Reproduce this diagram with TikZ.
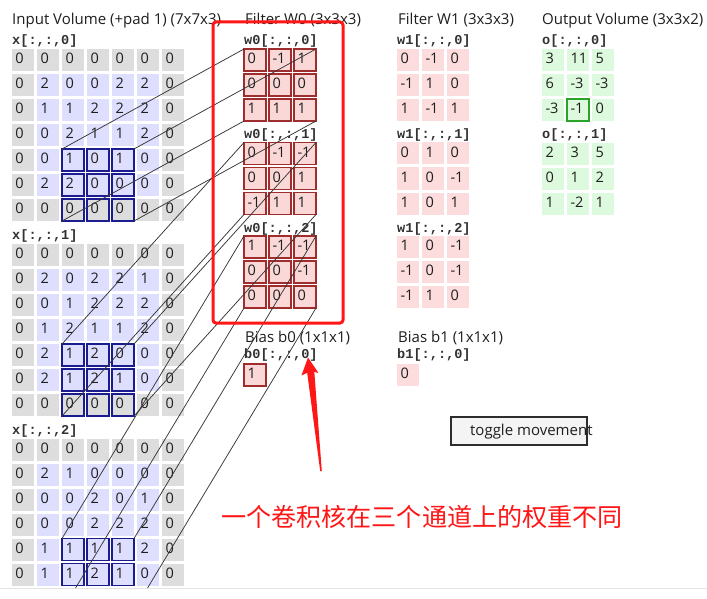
\documentclass[tikz,border=0pt]{standalone}
\usepackage{fontspec}
\newfontfamily\uifont{Open Sans}
\newfontfamily\monof{Liberation Mono}
\newfontfamily\cjkf{Noto Sans CJK SC}
\definecolor{padgray}{RGB}{221,221,221}
\definecolor{inblue}{RGB}{222,222,255}
\definecolor{hlnavy}{RGB}{28,28,145}
\definecolor{wpink}{RGB}{250,216,216}
\definecolor{wred}{RGB}{160,45,45}
\definecolor{wonepink}{RGB}{252,220,220}
\definecolor{ogreen}{RGB}{222,250,222}
\definecolor{ohl}{RGB}{40,165,40}
\definecolor{txt}{RGB}{30,30,30}
\definecolor{mtxt}{RGB}{50,50,50}
\definecolor{conncol}{RGB}{55,55,55}
\definecolor{annred}{RGB}{255,22,22}
\tikzset{
 cellbase/.style={anchor=north west, minimum width=22pt, minimum height=22pt,
   inner xsep=3.5pt, inner ysep=0pt, text width=15pt, align=left,
   text height=10.7pt, text depth=3.5pt, outer sep=0pt,
   font=\uifont\fontsize{14.5}{17}\selectfont, text=txt},
 padcell/.style={cellbase, fill=padgray},
 incell/.style={cellbase, fill=inblue},
 wcell/.style={cellbase, fill=wpink, draw=wred, line width=1.2pt},
 wonecell/.style={cellbase, fill=wonepink},
 ocell/.style={cellbase, fill=ogreen},
 hlbox/.style={draw=hlnavy, line width=1.8pt},
 ohlbox/.style={draw=ohl, line width=1.5pt},
 conn/.style={draw=conncol, line width=0.75pt},
 titletext/.style={anchor=base west, inner sep=0pt, font=\uifont\fontsize{15}{18}\selectfont, text=txt},
 mlabel/.style={anchor=base west, inner sep=0pt, font=\monof\bfseries\fontsize{13.6}{16}\selectfont, text=mtxt},
 btn/.style={draw={rgb,255:red,45;green,45;blue,45}, fill={rgb,255:red,244;green,244;blue,244}, line width=1.5pt},
}
\newcommand\cellgrid[5]{%
 \foreach \r [count=\i from 0] in {#5} {
  \foreach \v [count=\j from 0] in \r {
   \node[#2] (#1-\i-\j) at ({#3+25*\j},{#4+25*\i}) {\v};
  }
 }
}
\newcommand\inputgrid[4]{%
 \foreach \r [count=\i from 0] in {#4} {
  \foreach \v [count=\j from 0] in \r {
   \pgfmathtruncatemacro\padq{(\i==0)||(\i==6)||(\j==0)||(\j==6)}
   \ifnum\padq=1
     \node[padcell] (#1-\i-\j) at ({#2+25*\j},{#3+25*\i}) {\v};
   \else
     \node[incell] (#1-\i-\j) at ({#2+25*\j},{#3+25*\i}) {\v};
   \fi
  }
 }
}
\begin{document}
\begin{tikzpicture}[x=1pt,y=-1pt]
\useasboundingbox (0,0) rectangle (707,599);
\fill[white] (0,0) rectangle (707,599);

\begin{scope}
\clip (0,0) rectangle (707,587.5);
% titles
\node[titletext] (tin) at (12,25) {Input Volume (+pad 1) (7x7x3)};
\node[titletext] (tw0) at (245,25) {Filter W0 (3x3x3)};
\node[titletext] (tw1) at (398,25) {Filter W1 (3x3x3)};
\node[titletext] (tout) at (542,25) {Output Volume (3x3x2)};
% mono labels
\node[mlabel] (lx0) at (12,45) {x[:,:,0]};
\node[mlabel] (lx1) at (12,239.5) {x[:,:,1]};
\node[mlabel] (lx2) at (12,434) {x[:,:,2]};
\node[mlabel] (lw00) at (244,45) {w0[:,:,0]};
\node[mlabel] (lw01) at (244,138.5) {w0[:,:,1]};
\node[mlabel] (lw02) at (244,232) {w0[:,:,2]};
\node[mlabel] (lw10) at (397,45) {w1[:,:,0]};
\node[mlabel] (lw11) at (397,138.5) {w1[:,:,1]};
\node[mlabel] (lw12) at (397,232) {w1[:,:,2]};
\node[mlabel] (lo0) at (542,45) {o[:,:,0]};
\node[mlabel] (lo1) at (542,138.5) {o[:,:,1]};

% input volume
\inputgrid{xa}{12}{49}{{0,0,0,0,0,0,0},{0,2,0,0,2,2,0},{0,1,1,2,2,2,0},{0,0,2,1,1,2,0},{0,0,1,0,1,0,0},{0,2,2,0,0,0,0},{0,0,0,0,0,0,0}}
\inputgrid{xb}{12}{244}{{0,0,0,0,0,0,0},{0,2,0,2,2,1,0},{0,0,1,2,2,2,0},{0,1,2,1,1,2,0},{0,2,1,2,0,0,0},{0,2,1,2,1,0,0},{0,0,0,0,0,0,0}}
\inputgrid{xc}{12}{438.5}{{0,0,0,0,0,0,0},{0,2,1,0,0,0,0},{0,0,0,2,0,1,0},{0,0,0,2,2,2,0},{0,1,1,1,1,2,0},{0,1,1,2,1,0,0}}
% last row of x[:,:,2] lies below the visible edge
\foreach \j in {0,...,6}{
 \node[padcell] (xc-6-\j) at ({12+25*\j},588.5) {};
}
\foreach \g in {xa,xb,xc}{
 \foreach \i in {4,5,6}{
  \foreach \j in {2,3,4}{
   \draw[hlbox] (\g-\i-\j.north west) rectangle (\g-\i-\j.south east);
  }
 }
}

% filter W0
\cellgrid{wa}{wcell}{244}{49}{{0,-1,1},{0,0,0},{1,1,1}}
\cellgrid{wb}{wcell}{244}{142.5}{{0,-1,-1},{0,0,1},{-1,1,1}}
\cellgrid{wc}{wcell}{244}{236}{{1,-1,-1},{0,0,-1},{0,0,0}}
% filter W1
\cellgrid{va}{wonecell}{397}{49}{{0,-1,0},{-1,1,0},{1,-1,1}}
\cellgrid{vb}{wonecell}{397}{142.5}{{0,1,0},{1,0,-1},{1,0,1}}
\cellgrid{vc}{wonecell}{397}{236}{{1,0,-1},{-1,0,-1},{-1,1,0}}
% output
\cellgrid{oa}{ocell}{542}{49}{{3,11,5},{6,-3,-3},{-3,-1,0}}
\cellgrid{ob}{ocell}{542}{143}{{2,3,5},{0,1,2},{1,-2,1}}
\draw[ohlbox] (oa-2-1.north west) rectangle (oa-2-1.south east);

% bias
\node[titletext] (tb0) at (245,342) {Bias b0 (1x1x1)};
\node[titletext] (tb1) at (398,342) {Bias b1 (1x1x1)};
\node[mlabel] (lb0) at (244,358.5) {b0[:,:,0]};
\node[mlabel] (lb1) at (397,358.5) {b1[:,:,0]};
\node[wcell] (ba) at (244,364) {1};
\node[wonecell] (bb) at (397,364) {0};

% connectors input -> filter
\foreach \g/\w in {xa/wa,xb/wb,xc/wc}{
 \draw[conn] (\g-4-2.north west) -- (\w-0-0.north west);
 \draw[conn] (\g-4-4.north east) -- (\w-0-2.north east);
 \draw[conn] (\g-6-2.south west) -- (\w-2-0.south west);
 \draw[conn] (\g-6-4.south east) -- (\w-2-2.south east);
}
\end{scope}

% bottom edge line
\draw[draw={rgb,255:red,228;green,228;blue,228}, line width=1pt] (0,588) -- (707,588);

% toggle button
\draw[btn] (451,417) rectangle (587,445);
\node[titletext] (tog) at (470,435) {toggle movement};

% annotation
\draw[annred, line width=3pt, rounded corners=3pt] (213,22) rectangle (343,323);
\fill[annred] (308,357.5) -- (318.5,373) -- (314.3,371.8) -- (321.8,471) -- (320.2,471)
  -- (307.2,372.8) -- (301.5,375.5) -- cycle;
\node[anchor=west, inner sep=0pt, text=annred, font=\cjkf\fontsize{25.1}{29}\selectfont] (note) at (221,517) {一个卷积核在三个通道上的权重不同};
\end{tikzpicture}
\end{document}
